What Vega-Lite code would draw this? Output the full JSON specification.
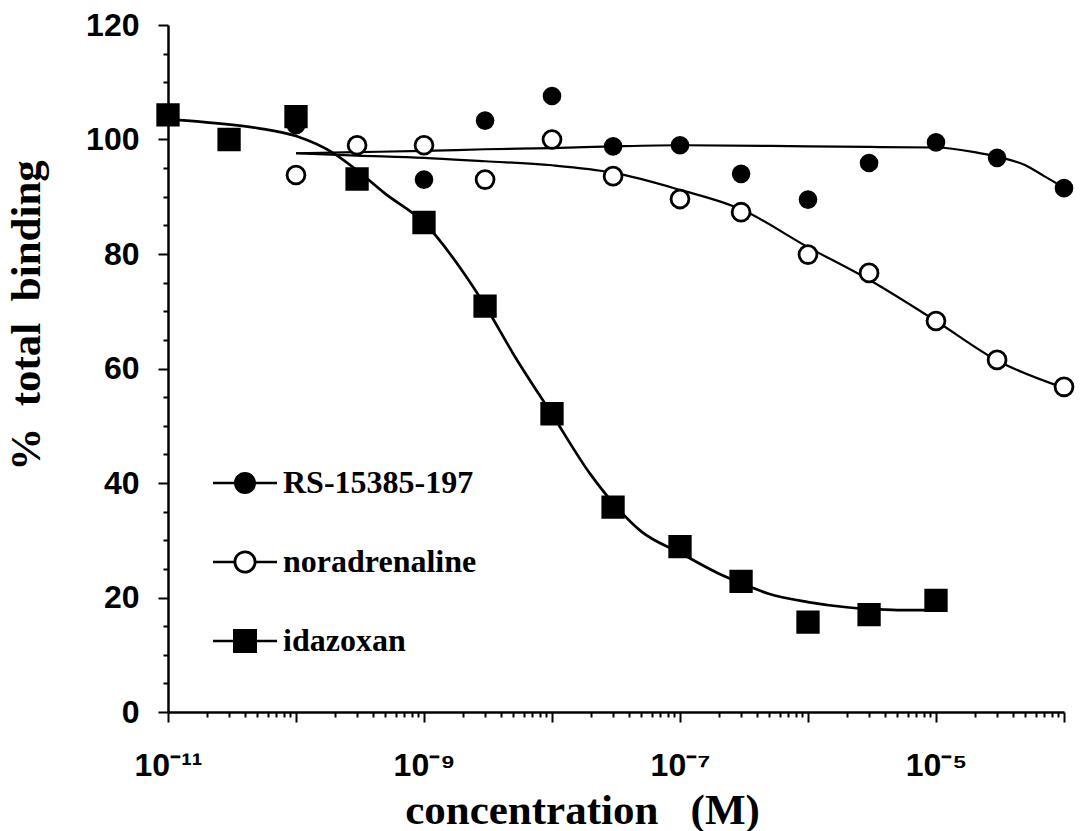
{
  "$schema": "https://vega.github.io/schema/vega-lite/v6.json",
  "autosize": {"type": "none"},
  "width": 896,
  "height": 687,
  "padding": {"left": 168, "top": 25, "right": 16, "bottom": 119},
  "background": "white",
  "config": {
    "view": {"stroke": null},
    "axis": {
      "grid": false,
      "domainColor": "black",
      "domainWidth": 2.5,
      "tickColor": "black",
      "tickWidth": 2,
      "labelColor": "black",
      "labelFont": "Liberation Sans",
      "labelFontWeight": "bold",
      "labelOverlap": false,
      "labelFlush": false,
      "labelBound": false,
      "titleColor": "black",
      "titleFont": "Liberation Serif",
      "titleFontWeight": "bold",
      "titleFontSize": 43
    },
    "legend": {
      "title": null,
      "orient": "none",
      "legendX": 45,
      "legendY": 426,
      "padding": 0,
      "symbolSize": 4096,
      "symbolStrokeWidth": 0,
      "symbolFillColor": "black",
      "rowPadding": 31,
      "labelOffset": 6,
      "labelFont": "Liberation Serif",
      "labelFontWeight": "bold",
      "labelFontSize": 32,
      "labelColor": "black",
      "labelLimit": 400
    }
  },
  "datasets": {
    "points": [
      {"series": "RS-15385-197", "conc": 1e-10, "binding": 102.5},
      {"series": "RS-15385-197", "conc": 1e-9, "binding": 93.0},
      {"series": "RS-15385-197", "conc": 3e-9, "binding": 103.3},
      {"series": "RS-15385-197", "conc": 1e-8, "binding": 107.6},
      {"series": "RS-15385-197", "conc": 3e-8, "binding": 98.8},
      {"series": "RS-15385-197", "conc": 1e-7, "binding": 99.0},
      {"series": "RS-15385-197", "conc": 3e-7, "binding": 94.0},
      {"series": "RS-15385-197", "conc": 1e-6, "binding": 89.5},
      {"series": "RS-15385-197", "conc": 3e-6, "binding": 95.9},
      {"series": "RS-15385-197", "conc": 1e-5, "binding": 99.5},
      {"series": "RS-15385-197", "conc": 3e-5, "binding": 96.8},
      {"series": "RS-15385-197", "conc": 1e-4, "binding": 91.5},
      {"series": "noradrenaline", "conc": 1e-10, "binding": 93.8},
      {"series": "noradrenaline", "conc": 3e-10, "binding": 99.0},
      {"series": "noradrenaline", "conc": 1e-9, "binding": 99.0},
      {"series": "noradrenaline", "conc": 3e-9, "binding": 93.0},
      {"series": "noradrenaline", "conc": 1e-8, "binding": 100.0},
      {"series": "noradrenaline", "conc": 3e-8, "binding": 93.6},
      {"series": "noradrenaline", "conc": 1e-7, "binding": 89.6},
      {"series": "noradrenaline", "conc": 3e-7, "binding": 87.3},
      {"series": "noradrenaline", "conc": 1e-6, "binding": 79.9},
      {"series": "noradrenaline", "conc": 3e-6, "binding": 76.7},
      {"series": "noradrenaline", "conc": 1e-5, "binding": 68.3},
      {"series": "noradrenaline", "conc": 3e-5, "binding": 61.5},
      {"series": "noradrenaline", "conc": 1e-4, "binding": 56.8},
      {"series": "idazoxan", "conc": 1e-11, "binding": 104.3},
      {"series": "idazoxan", "conc": 3e-11, "binding": 100.0},
      {"series": "idazoxan", "conc": 1e-10, "binding": 104.0},
      {"series": "idazoxan", "conc": 3e-10, "binding": 93.1},
      {"series": "idazoxan", "conc": 1e-9, "binding": 85.5},
      {"series": "idazoxan", "conc": 3e-9, "binding": 70.9},
      {"series": "idazoxan", "conc": 1e-8, "binding": 52.1},
      {"series": "idazoxan", "conc": 3e-8, "binding": 35.8},
      {"series": "idazoxan", "conc": 1e-7, "binding": 28.9},
      {"series": "idazoxan", "conc": 3e-7, "binding": 22.8},
      {"series": "idazoxan", "conc": 1e-6, "binding": 15.7},
      {"series": "idazoxan", "conc": 3e-6, "binding": 17.0},
      {"series": "idazoxan", "conc": 1e-5, "binding": 19.5}
    ],
    "curves": [
      {"series": "RS-15385-197", "conc": 1e-10, "binding": 97.6},
      {"series": "RS-15385-197", "conc": 3e-10, "binding": 97.8},
      {"series": "RS-15385-197", "conc": 1e-9, "binding": 98.0},
      {"series": "RS-15385-197", "conc": 3e-9, "binding": 98.3},
      {"series": "RS-15385-197", "conc": 1e-8, "binding": 98.5},
      {"series": "RS-15385-197", "conc": 3e-8, "binding": 98.8},
      {"series": "RS-15385-197", "conc": 1e-7, "binding": 99.0},
      {"series": "RS-15385-197", "conc": 1e-6, "binding": 98.8},
      {"series": "RS-15385-197", "conc": 3e-6, "binding": 98.7},
      {"series": "RS-15385-197", "conc": 1e-5, "binding": 98.6},
      {"series": "RS-15385-197", "conc": 2e-5, "binding": 97.8},
      {"series": "RS-15385-197", "conc": 3e-5, "binding": 97.0},
      {"series": "RS-15385-197", "conc": 5e-5, "binding": 95.5},
      {"series": "RS-15385-197", "conc": 7e-5, "binding": 93.6},
      {"series": "RS-15385-197", "conc": 1e-4, "binding": 91.6},
      {"series": "noradrenaline", "conc": 1e-10, "binding": 97.6},
      {"series": "noradrenaline", "conc": 3e-10, "binding": 97.2},
      {"series": "noradrenaline", "conc": 1e-9, "binding": 96.8},
      {"series": "noradrenaline", "conc": 3e-9, "binding": 96.2},
      {"series": "noradrenaline", "conc": 1e-8, "binding": 95.5},
      {"series": "noradrenaline", "conc": 3e-8, "binding": 94.2},
      {"series": "noradrenaline", "conc": 1e-7, "binding": 91.2},
      {"series": "noradrenaline", "conc": 3e-7, "binding": 87.8},
      {"series": "noradrenaline", "conc": 1e-6, "binding": 81.2},
      {"series": "noradrenaline", "conc": 3e-6, "binding": 75.5},
      {"series": "noradrenaline", "conc": 1e-5, "binding": 68.3},
      {"series": "noradrenaline", "conc": 3e-5, "binding": 61.4},
      {"series": "noradrenaline", "conc": 1e-4, "binding": 56.6},
      {"series": "idazoxan", "conc": 1e-11, "binding": 103.5},
      {"series": "idazoxan", "conc": 2e-11, "binding": 103.0},
      {"series": "idazoxan", "conc": 5e-11, "binding": 102.0},
      {"series": "idazoxan", "conc": 1e-10, "binding": 100.6},
      {"series": "idazoxan", "conc": 2e-10, "binding": 97.5},
      {"series": "idazoxan", "conc": 3e-10, "binding": 94.6},
      {"series": "idazoxan", "conc": 5e-10, "binding": 90.5},
      {"series": "idazoxan", "conc": 1e-9, "binding": 85.5},
      {"series": "idazoxan", "conc": 2e-9, "binding": 77.0},
      {"series": "idazoxan", "conc": 3e-9, "binding": 71.0},
      {"series": "idazoxan", "conc": 5e-9, "binding": 62.5},
      {"series": "idazoxan", "conc": 1e-8, "binding": 52.0},
      {"series": "idazoxan", "conc": 2e-8, "binding": 41.5},
      {"series": "idazoxan", "conc": 3e-8, "binding": 36.5},
      {"series": "idazoxan", "conc": 5e-8, "binding": 31.5},
      {"series": "idazoxan", "conc": 1e-7, "binding": 27.8},
      {"series": "idazoxan", "conc": 2e-7, "binding": 24.2},
      {"series": "idazoxan", "conc": 3e-7, "binding": 22.5},
      {"series": "idazoxan", "conc": 5e-7, "binding": 20.6},
      {"series": "idazoxan", "conc": 1e-6, "binding": 19.2},
      {"series": "idazoxan", "conc": 2e-6, "binding": 18.3},
      {"series": "idazoxan", "conc": 3e-6, "binding": 18.0},
      {"series": "idazoxan", "conc": 5e-6, "binding": 17.8},
      {"series": "idazoxan", "conc": 1e-5, "binding": 17.8}
    ]
  },
  "encoding": {
    "x": {
      "field": "conc",
      "type": "quantitative",
      "scale": {"type": "log", "domain": [1e-11, 1e-4], "nice": false},
      "axis": {
        "title": "concentration\u00a0\u00a0\u00a0(M)",
        "titleX": 414,
        "titleY": 111,
        "titleAlign": "center",
        "titleBaseline": "alphabetic",
        "values": [1e-11,2e-11,3e-11,4e-11,5e-11,6e-11,7e-11,8e-11,9e-11,
                   1e-10,2e-10,3e-10,4e-10,5e-10,6e-10,7e-10,8e-10,9e-10,
                   1e-9,2e-9,3e-9,4e-9,5e-9,6e-9,7e-9,8e-9,9e-9,
                   1e-8,2e-8,3e-8,4e-8,5e-8,6e-8,7e-8,8e-8,9e-8,
                   1e-7,2e-7,3e-7,4e-7,5e-7,6e-7,7e-7,8e-7,9e-7,
                   1e-6,2e-6,3e-6,4e-6,5e-6,6e-6,7e-6,8e-6,9e-6,
                   1e-5,2e-5,3e-5,4e-5,5e-5,6e-5,7e-5,8e-5,9e-5,1e-4],
        "tickSize": {"condition": {"test": "abs(log(datum.value)/LN10 - round(log(datum.value)/LN10)) < 0.01", "value": 10}, "value": 5},
        "labelExpr": "abs(log(datum.value)/LN10 + 11) < 0.01 ? '10⁻¹¹' : abs(log(datum.value)/LN10 + 9) < 0.01 ? '10⁻⁹' : abs(log(datum.value)/LN10 + 7) < 0.01 ? '10⁻⁷' : abs(log(datum.value)/LN10 + 5) < 0.01 ? '10⁻⁵' : ''",
        "labelFontSize": 32,
        "labelPadding": 28
      }
    },
    "y": {
      "field": "binding",
      "type": "quantitative",
      "scale": {"domain": [0, 120], "nice": false},
      "axis": {
        "title": "%\u00a0\u00a0total\u00a0\u00a0binding",
        "titleAngle": -90,
        "titleX": -129,
        "titleY": 290,
        "titleAlign": "center",
        "titleBaseline": "alphabetic",
        "values": [0,5,10,15,20,25,30,35,40,45,50,55,60,65,70,75,80,85,90,95,100,105,110,115,120],
        "tickSize": {"condition": {"test": "datum.value % 20 === 0", "value": 10}, "value": 5},
        "labelExpr": "datum.value % 20 === 0 ? datum.label : ''",
        "labelFontSize": 32,
        "labelPadding": 19
      }
    }
  },
  "layer": [
    {
      "data": {"name": "curves"},
      "transform": [{"filter": "datum.series !== 'idazoxan'"}],
      "mark": {"type": "line", "interpolate": "monotone", "color": "black", "strokeWidth": 2.2},
      "encoding": {"detail": {"field": "series", "type": "nominal"}}
    },
    {
      "data": {"name": "curves"},
      "transform": [{"filter": "datum.series === 'idazoxan'"}],
      "mark": {"type": "line", "interpolate": "monotone", "color": "black", "strokeWidth": 2.7},
      "encoding": {"detail": {"field": "series", "type": "nominal"}}
    },
    {
      "data": {"name": "points"},
      "transform": [{"filter": "false"}],
      "mark": {"type": "point", "filled": true, "color": "black", "strokeWidth": 0, "opacity": 1},
      "encoding": {
        "shape": {
          "field": "series", "type": "nominal",
          "scale": {
            "domain": ["RS-15385-197", "noradrenaline", "idazoxan"],
            "range": [
              "M-1,-0.039H-0.3V0.039H-1ZM0.3,-0.039H1V0.039H0.3ZM-0.344,0A0.344,0.344,0,1,1,0.344,0A0.344,0.344,0,1,1,-0.344,0Z",
              "M-1,-0.039H-0.3V0.039H-1ZM0.3,-0.039H1V0.039H0.3ZM-0.36,0A0.36,0.36,0,1,1,0.36,0A0.36,0.36,0,1,1,-0.36,0ZM-0.27,0A0.27,0.27,0,1,0,0.27,0A0.27,0.27,0,1,0,-0.27,0Z",
              "M-1,-0.039H-0.3V0.039H-1ZM0.3,-0.039H1V0.039H0.3ZM-0.375,-0.375H0.375V0.375H-0.375Z"
            ]
          }
        }
      }
    },
    {
      "data": {"name": "points"},
      "transform": [{"filter": "datum.series === 'RS-15385-197'"}],
      "mark": {"type": "point", "shape": "circle", "filled": true, "fill": "black", "stroke": "black", "strokeWidth": 2.5, "size": 260, "opacity": 1}
    },
    {
      "data": {"name": "points"},
      "transform": [{"filter": "datum.series === 'noradrenaline'"}],
      "mark": {"type": "point", "shape": "circle", "filled": true, "fill": "white", "stroke": "black", "strokeWidth": 2.8, "size": 320, "opacity": 1}
    },
    {
      "data": {"name": "points"},
      "transform": [{"filter": "datum.series === 'idazoxan'"}],
      "mark": {"type": "point", "shape": "square", "filled": true, "fill": "black", "stroke": "black", "strokeWidth": 2.5, "size": 433, "opacity": 1}
    }
  ]
}
